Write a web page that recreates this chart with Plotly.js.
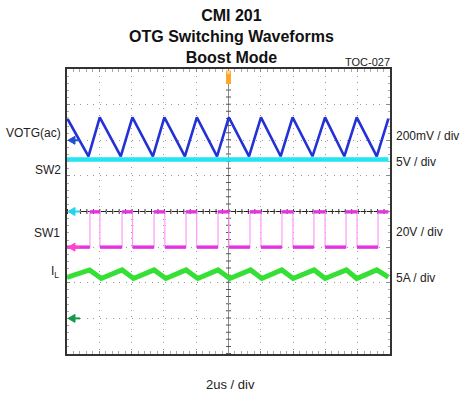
<!DOCTYPE html>
<html>
<head>
<meta charset="utf-8">
<script src="https://cdn.plot.ly/plotly-3.0.1.min.js"></script>
<style>html,body{margin:0;padding:0;background:#fff;}#chart{width:461px;height:397px;}</style>
</head>
<body>
<div id="chart"></div>
<script>
// ---- Scope settings ----
const usPerDiv = 2;          // 2us / div
const divX = 10;             // horizontal divisions
const divY = 8;              // vertical divisions

// Channels: name, scale per division, ground-marker position (div from centre)
const chNames = ['VOTG(ac)', 'SW2', 'SW1', 'I<sub>L</sub>'];
const chScales = [200, 5, 20, 5];          // mV/div, V/div, V/div, A/div
const chPositions = [2, 0, -1, -3];        // divisions
const chScaleLabels = ['200mV / div', '5V / div', '20V / div', '5A / div'];
const chAxes = ['y2', 'y', 'y3', 'y4'];

// ---- Waveform data ----
// VOTG(ac) ripple, mV
const votgT = [0, 1.33, 2.03, 3.33, 4.05, 5.32, 6.03, 7.30, 8.04, 9.29, 10.02, 11.27, 12.01, 13.23, 13.97, 15.20, 15.98, 17.17, 17.94, 19.18, 19.9];
const votgV = [125, -90, 128, -90, 128, -90, 128, -90, 128, -90, 128, -90, 128, -90, 128, -90, 128, -90, 128, -90, 122];

// SW2, V
const sw2T = [0, 19.9];
const sw2V = [7.3, 7.3];

// SW1 switching node, V (each value holds until the next time)
const sw1T = [0, 1.42, 2.04, 3.41, 4.06, 5.39, 6.06, 7.37, 8.03, 9.35, 10.03, 11.33, 12.01, 13.31, 13.99, 15.29, 15.98, 17.28, 17.96, 19.26, 19.9];
const sw1V = [0, 19.8, 0, 19.8, 0, 19.8, 0, 19.8, 0, 19.8, 0, 19.8, 0, 19.8, 0, 19.8, 0, 19.8, 0, 19.8, 19.8];

// Inductor current IL, A
const ilT = [0, 1.40, 2.12, 3.41, 4.12, 5.39, 6.12, 7.37, 8.10, 9.35, 10.08, 11.37, 12.06, 13.30, 14.00, 15.30, 15.98, 17.30, 17.94, 19.18, 19.9];
const ilA = [5.75, 6.8, 5.6, 6.8, 5.6, 6.8, 5.6, 6.8, 5.6, 6.8, 5.6, 6.8, 5.6, 6.8, 5.6, 6.8, 5.6, 6.8, 5.6, 6.8, 5.8];

// ---- Build ----
const FONT = 'Liberation Sans, Arial, sans-serif';
const colors = ['#2431d6', '#22e4f2', '#e633e0', '#33e033'];
const markerColors = ['#2050d0', '#22d4f0', '#ff44cc', '#18994a'];

function chRange(i) {
  return [(-divY / 2 - chPositions[i]) * chScales[i], (divY / 2 - chPositions[i]) * chScales[i]];
}

// plateau segments of SW1 (thick); edges come from the thin hv trace
const platT = [], platV = [];
for (let i = 0; i < sw1T.length - 1; i++) {
  platT.push(sw1T[i], sw1T[i + 1], null);
  platV.push(sw1V[i], sw1V[i], null);
}

const traces = [
  {x: sw2T, y: sw2V, yaxis: 'y', mode: 'lines', line: {color: colors[1], width: 4.5}, name: 'SW2', hoverinfo: 'skip'},
  {x: votgT, y: votgV, yaxis: 'y2', mode: 'lines', line: {color: colors[0], width: 2.6}, name: 'VOTG(ac)', hoverinfo: 'skip'},
  {x: sw1T, y: sw1V, yaxis: 'y3', mode: 'lines', line: {color: '#ff9cf6', width: 1.2, shape: 'hv'}, name: 'SW1', hoverinfo: 'skip'},
  {x: platT, y: platV, yaxis: 'y3', mode: 'lines', line: {color: colors[2], width: 3.4}, name: 'SW1 levels', hoverinfo: 'skip', connectgaps: false},
  {x: ilT, y: ilA, yaxis: 'y4', mode: 'lines', line: {color: colors[3], width: 5}, name: 'IL', hoverinfo: 'skip'}
];

const xRange = [0, divX * usPerDiv];
const xCenter = divX * usPerDiv / 2;

const plotTop = 69, plotBot = 354, plotL = 67, plotW = 323;
function py(p) { return (plotBot - p) / (plotBot - plotTop); }
function px(p) { return (p - plotL) / plotW; }

const ann = [];
const shapes = [];
const leftY = [133, 170, 233, 272];
const leftX = [63, 63, 62, 61];
const rightY = [136, 161.7, 231.7, 277.7];
for (let i = 0; i < 4; i++) {
  ann.push({text: chNames[i], xref: 'paper', yref: 'paper', x: px(leftX[i]), y: py(leftY[i]), xanchor: 'right', yanchor: 'middle',
    showarrow: false, font: {family: FONT, size: 12, color: '#222'}});
  ann.push({text: chScaleLabels[i], xref: 'paper', yref: 'paper', x: px(394), y: py(rightY[i]), xanchor: 'left', yanchor: 'middle',
    showarrow: false, font: {family: FONT, size: 12, color: '#222'}});
  // ground marker arrows at each channel's zero level
  shapes.push({type: 'path', xref: 'x', yref: chAxes[i], xsizemode: 'pixel', ysizemode: 'pixel', xanchor: 0, yanchor: 0,
    path: 'M1,0 L8,4 L8,-4 Z', fillcolor: markerColors[i], line: {color: markerColors[i], width: 1}, layer: 'above'});
  shapes.push({type: 'path', xref: 'x', yref: chAxes[i], xsizemode: 'pixel', ysizemode: 'pixel', xanchor: 0, yanchor: 0,
    path: 'M7,0 L13,0', line: {color: markerColors[i], width: 2}, layer: 'above'});
}
ann.push({text: 'TOC-027', xref: 'paper', yref: 'paper', x: px(392), y: py(61.7), xanchor: 'right', yanchor: 'middle',
  showarrow: false, font: {family: FONT, size: 11, color: '#222'}});
ann.push({text: usPerDiv + 'us / div', xref: 'paper', yref: 'paper', x: px(230), y: py(385), xanchor: 'center', yanchor: 'middle',
  showarrow: false, font: {family: FONT, size: 13, color: '#222'}});

// centre graticule lines with small ticks (dash trick on a wide line)
shapes.push({type: 'line', xref: 'paper', yref: 'paper', x0: 0, x1: 1, y0: 0.5, y1: 0.5, line: {color: '#222', width: 1}, layer: 'below'});
shapes.push({type: 'line', xref: 'paper', yref: 'paper', x0: 0, x1: 1, y0: 0.5, y1: 0.5, line: {color: '#333', width: 5, dash: '1px,5.46px'}, layer: 'below'});
shapes.push({type: 'line', xref: 'x', yref: 'paper', x0: xCenter, x1: xCenter, y0: 0, y1: 1, line: {color: '#8a8a8a', width: 1}, layer: 'below'});
shapes.push({type: 'line', xref: 'x', yref: 'paper', x0: xCenter, x1: xCenter, y0: 0, y1: 1, line: {color: '#555', width: 5, dash: '1px,6.125px'}, layer: 'below'});
// trigger marker
shapes.push({type: 'rect', xref: 'x', yref: 'paper', x0: xCenter - 0.15, x1: xCenter + 0.15, y0: py(84), y1: py(70.5), fillcolor: '#ffa528', line: {width: 0}, layer: 'above'});
shapes.push({type: 'rect', xref: 'x', yref: 'paper', x0: xCenter - 0.1, x1: xCenter + 0.1, y0: py(74), y1: py(71), fillcolor: '#ffd08a', line: {width: 0}, layer: 'above'});

const frame = {
  showline: true, mirror: 'allticks', linecolor: '#333', linewidth: 2,
  showgrid: true, gridcolor: '#9a9a9a', gridwidth: 1, griddash: '1px,5.5px',
  zeroline: false, showticklabels: false, ticks: 'inside', ticklen: 3, tickcolor: '#888', fixedrange: true
};

const layout = {
  width: 461, height: 397,
  margin: {l: 67, r: 71, t: 69, b: 43, pad: 0},
  paper_bgcolor: '#fff', plot_bgcolor: '#fff',
  showlegend: false,
  title: {text: 'CMI 201<br>OTG Switching Waveforms<br>Boost Mode', xref: 'container', x: 0.502, yref: 'container', y: 0.947, yanchor: 'top',
    font: {family: FONT, size: 16, color: '#111', weight: 'bold'}},
  xaxis: Object.assign({}, frame, {range: xRange, dtick: usPerDiv, tick0: 0,
    minor: {ticks: 'inside', ticklen: 2, dtick: usPerDiv / 5, tick0: 0, tickcolor: '#aaa', showgrid: false}}),
  // main y axis doubles as the SW2 channel (centred, 5V/div) and carries the graticule
  yaxis: Object.assign({}, frame, {range: chRange(1), dtick: chScales[1], tick0: 0,
    minor: {ticks: 'inside', ticklen: 2, dtick: chScales[1] / 5, tick0: 0, tickcolor: '#aaa', showgrid: false}}),
  yaxis2: {overlaying: 'y', range: chRange(0), visible: false, fixedrange: true},
  yaxis3: {overlaying: 'y', range: chRange(2), visible: false, fixedrange: true},
  yaxis4: {overlaying: 'y', range: chRange(3), visible: false, fixedrange: true},
  shapes: shapes,
  annotations: ann
};

Plotly.newPlot('chart', traces, layout, {staticPlot: true, displayModeBar: false});
</script>
</body>
</html>
